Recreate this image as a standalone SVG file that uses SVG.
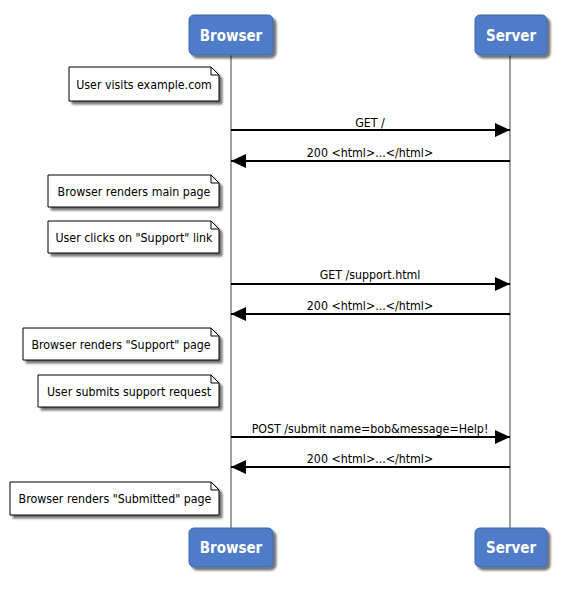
<svg xmlns="http://www.w3.org/2000/svg" width="562" height="591" viewBox="0 0 562 591">
  <defs>
    <filter id="shadow" x="-20%" y="-20%" width="150%" height="160%">
      <feGaussianBlur in="SourceAlpha" stdDeviation="1.2"/>
      <feOffset dx="3" dy="3" result="off"/>
      <feComponentTransfer><feFuncA type="linear" slope="0.55"/></feComponentTransfer>
      <feMerge><feMergeNode/><feMergeNode in="SourceGraphic"/></feMerge>
    </filter>
    <marker id="head" markerWidth="15" markerHeight="14" refX="15" refY="7" orient="auto" markerUnits="userSpaceOnUse">
      <path d="M0,0 L15,7 L0,14 Z" fill="#000"/>
    </marker>
  </defs>
  <style>
    .actor { fill: #4f7bc8; stroke: #3f67ad; stroke-width: 1; filter: url(#shadow); }
    .actor-label { font-family: "DejaVu Sans Condensed", "DejaVu Sans", sans-serif; font-weight: bold; font-size: 15px; fill: #fff; text-anchor: middle; }
    .life { stroke: #a0a0a0; stroke-width: 2; }
    .msg { stroke: #000; stroke-width: 2; fill: none; marker-end: url(#head); }
    .msg-label { font-family: "DejaVu Sans Condensed", "DejaVu Sans", sans-serif; font-size: 12.3px; fill: #000; text-anchor: middle; }
    .note { fill: #fff; stroke: #000; stroke-width: 1; filter: url(#shadow); }
    .fold { fill: none; stroke: #000; stroke-width: 1; }
    .note-label { font-family: "DejaVu Sans Condensed", "DejaVu Sans", sans-serif; font-size: 12.3px; fill: #000; text-anchor: middle; }
  </style>

  <!-- lifelines -->
  <g id="lifelines">
    <line class="life" x1="231" y1="55" x2="231" y2="528"/>
    <line class="life" x1="510" y1="55" x2="510" y2="528"/>
  </g>

  <!-- participants -->
  <g id="browser-top">
    <rect class="actor" x="189" y="15" width="84" height="40" rx="5"/>
    <text class="actor-label" x="231" y="41">Browser</text>
  </g>
  <g id="server-top">
    <rect class="actor" x="475" y="15" width="72" height="40" rx="5"/>
    <text class="actor-label" x="511" y="41">Server</text>
  </g>
  <g id="browser-bottom">
    <rect class="actor" x="189" y="528" width="84" height="39" rx="5"/>
    <text class="actor-label" x="231" y="553">Browser</text>
  </g>
  <g id="server-bottom">
    <rect class="actor" x="475" y="528" width="72" height="39" rx="5"/>
    <text class="actor-label" x="511" y="553">Server</text>
  </g>

  <!-- notes on the Browser lifeline -->
  <g id="note1">
    <path class="note" d="M69,67 H211 L219,75 V101 H69 Z"/>
    <path class="fold" d="M211,67 V75 H219"/>
    <text class="note-label" x="144" y="89">User visits example.com</text>
  </g>
  <g id="note2">
    <path class="note" d="M48,175 H211 L219,183 V207 H48 Z"/>
    <path class="fold" d="M211,175 V183 H219"/>
    <text class="note-label" x="134" y="196">Browser renders main page</text>
  </g>
  <g id="note3">
    <path class="note" d="M48,221 H211 L219,229 V253 H48 Z"/>
    <path class="fold" d="M211,221 V229 H219"/>
    <text class="note-label" x="134" y="242">User clicks on "Support" link</text>
  </g>
  <g id="note4">
    <path class="note" d="M23,328 H211 L219,336 V360 H23 Z"/>
    <path class="fold" d="M211,328 V336 H219"/>
    <text class="note-label" x="121" y="349">Browser renders "Support" page</text>
  </g>
  <g id="note5">
    <path class="note" d="M38,375 H211 L219,383 V407 H38 Z"/>
    <path class="fold" d="M211,375 V383 H219"/>
    <text class="note-label" x="129" y="396">User submits support request</text>
  </g>
  <g id="note6">
    <path class="note" d="M10,482 H211 L219,490 V515 H10 Z"/>
    <path class="fold" d="M211,482 V490 H219"/>
    <text class="note-label" x="115" y="503">Browser renders "Submitted" page</text>
  </g>

  <!-- messages -->
  <g id="connectors">
    <line class="msg" x1="231" y1="130" x2="510" y2="130"/>
    <text class="msg-label" x="370" y="127">GET /</text>
    <line class="msg" x1="510" y1="161" x2="231" y2="161"/>
    <text class="msg-label" x="370" y="157">200 &lt;html&gt;...&lt;/html&gt;</text>

    <line class="msg" x1="231" y1="284" x2="510" y2="284"/>
    <text class="msg-label" x="370" y="279">GET /support.html</text>
    <line class="msg" x1="510" y1="314" x2="231" y2="314"/>
    <text class="msg-label" x="370" y="310">200 &lt;html&gt;...&lt;/html&gt;</text>

    <line class="msg" x1="231" y1="437" x2="510" y2="437"/>
    <text class="msg-label" x="370" y="433">POST /submit name=bob&amp;message=Help!</text>
    <line class="msg" x1="510" y1="467" x2="231" y2="467"/>
    <text class="msg-label" x="370" y="463">200 &lt;html&gt;...&lt;/html&gt;</text>
  </g>
</svg>
